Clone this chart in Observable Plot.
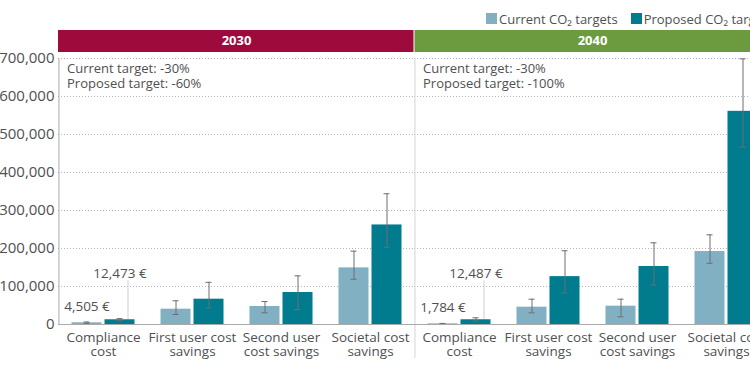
<!DOCTYPE html>
<html><head><meta charset="utf-8">
<script src="https://cdn.jsdelivr.net/npm/d3@7"></script>
<script src="https://cdn.jsdelivr.net/npm/@observablehq/plot@0.6"></script>
<style>
html,body{margin:0;padding:0;background:#fff;overflow:hidden;width:750px;height:375px;}
#wrap{position:relative;width:770px;}
#legend{position:relative;height:28px;}
#legend > *{position:absolute !important;left:486px;top:2px;white-space:nowrap;margin:0 !important;}
.lg-swatch > svg{margin-right:2px !important;}
.lg-swatches-wrap{flex-wrap:nowrap !important;}
</style></head>
<body><div id="wrap"><div id="legend"></div><div id="chart"></div></div>
<script>
// ---- data ----
const years = ["2030", "2040"];
const headerColors = ["#9e0a3b", "#6b9a3f"];
const categories = ["Compliance cost", "First user cost savings", "Second user cost savings", "Societal cost savings"];
const categoryLabels = ["Compliance\ncost", "First user cost\nsavings", "Second user\ncost savings", "Societal cost\nsavings"];
const series = ["Current CO\u2082 targets", "Proposed CO\u2082 targets"];
const seriesColors = ["#80b0c2", "#007c8e"];
const targetCurrent = ["-30%", "-30%"];
const targetProposed = ["-60%", "-100%"];
const yTicks = [0, 100000, 200000, 300000, 400000, 500000, 600000, 700000];

const current2030 = [4505, 40300, 47400, 149000];
const current2030Low = [3000, 26300, 30700, 119000];
const current2030High = [6500, 62400, 60500, 193000];
const proposed2030 = [12473, 66600, 84200, 262000];
const proposed2030Low = [10000, 43900, 39500, 203000];
const proposed2030High = [15500, 111000, 128000, 344000];

const current2040 = [1784, 45600, 48200, 192000];
const current2040Low = [1000, 30700, 20200, 161000];
const current2040High = [2800, 66600, 66600, 236000];
const proposed2040 = [12487, 126000, 152600, 561000];
const proposed2040Low = [9000, 82500, 104000, 467000];
const proposed2040High = [17600, 194000, 215000, 699000];

// ---- table ----
const rows = [];
[
  [years[0], series[0], current2030, current2030Low, current2030High],
  [years[0], series[1], proposed2030, proposed2030Low, proposed2030High],
  [years[1], series[0], current2040, current2040Low, current2040High],
  [years[1], series[1], proposed2040, proposed2040Low, proposed2040High]
].forEach(([year, s, v, lo, hi]) => categories.forEach((c, i) =>
  rows.push({year, series: s, category: c, value: v[i], lo: lo[i], hi: hi[i]})));
const cur = rows.filter(d => d.series === series[0]);
const pro = rows.filter(d => d.series === series[1]);
const compCur = cur.filter(d => d.category === categories[0]);
const compPro = pro.filter(d => d.category === categories[0]);
const notes = years.map((y, i) => ({year: y, text: `Current target: ${targetCurrent[i]}\nProposed target: ${targetProposed[i]}`}));
const fmt = d3.format(",");

const GAP = 16.5;
const halfStep = (770 - 57) / 2 / 4 / 2;
const textColor = "#4f5052";

const chart = Plot.plot({
  width: 770, height: 347,
  marginTop: 30, marginBottom: 51, marginLeft: 57, marginRight: 0,
  style: {fontFamily: "'Open Sans', sans-serif", fontSize: "14px", color: textColor, background: "#fff", overflow: "visible"},
  fx: {domain: years, padding: 0, axis: null},
  x: {domain: categories, paddingInner: 0.663, paddingOuter: 0.3315, axis: null},
  y: {domain: [0, 700000], axis: null},
  color: {domain: series, range: seriesColors},
  marks: [
    Plot.rect([years[0]], {fx: d => d, fill: headerColors[0], insetTop: -28, insetBottom: 272, insetRight: 0.5}),
    Plot.rect([years[1]], {fx: d => d, fill: headerColors[1], insetTop: -28, insetBottom: 272, insetLeft: 0.5}),
    Plot.text(years, {fx: d => d, text: d => d, frameAnchor: "top", dy: -23, fill: "white", fontWeight: "bold", fontSize: 13}),
    Plot.gridY(yTicks.slice(1), {stroke: "#b5b5b5", strokeOpacity: 1, strokeDasharray: "1,2"}),
    Plot.axisY(yTicks, {tickSize: 0, tickPadding: 4, tickFormat: fmt, fontSize: 15, fontWeight: 500, fill: textColor, label: null}),
    Plot.axisX({tickSize: 0, tickPadding: 7, tickFormat: d => categoryLabels[categories.indexOf(d)], lineHeight: 1.05, fontSize: 13.5, fontWeight: 500, fill: textColor, label: null}),
    Plot.ruleX([{year: years[0], category: categories[0]}], {fx: "year", x: "category", dx: -halfStep, stroke: "#aaa"}),
    Plot.ruleX([{year: years[1], category: categories[0]}], {fx: "year", x: "category", dx: -halfStep, stroke: "#d4d4d4", insetBottom: -34}),
    Plot.text(notes, {fx: "year", text: "text", frameAnchor: "top-left", dx: 8.5, dy: 5, lineAnchor: "top", textAnchor: "start", fontSize: 13, fontWeight: 500, lineHeight: 1.08, fill: textColor}),
    Plot.ruleX(compPro, {fx: "year", x: "category", y1: "value", y2: "value", dx: GAP + 8, insetBottom: 39, stroke: "#cfcfcf"}),
    Plot.barY(cur, {fx: "year", x: "category", y: "value", fill: "series", dx: -GAP}),
    Plot.barY(pro, {fx: "year", x: "category", y: "value", fill: "series", dx: GAP}),
    Plot.ruleX(cur, {fx: "year", x: "category", y1: "lo", y2: "hi", dx: -GAP, stroke: "#6d6e71"}),
    Plot.ruleX(pro, {fx: "year", x: "category", y1: "lo", y2: "hi", dx: GAP, stroke: "#6d6e71"}),
    Plot.tickY(cur, {fx: "year", x: "category", y: "lo", dx: -GAP, insetLeft: 12, insetRight: 12, stroke: "#6d6e71"}),
    Plot.tickY(cur, {fx: "year", x: "category", y: "hi", dx: -GAP, insetLeft: 12, insetRight: 12, stroke: "#6d6e71"}),
    Plot.tickY(pro, {fx: "year", x: "category", y: "lo", dx: GAP, insetLeft: 12, insetRight: 12, stroke: "#6d6e71"}),
    Plot.tickY(pro, {fx: "year", x: "category", y: "hi", dx: GAP, insetLeft: 12, insetRight: 12, stroke: "#6d6e71"}),
    Plot.ruleY([0], {stroke: "#aaa"}),
    Plot.text(compCur, {fx: "year", x: "category", y: "value", text: d => fmt(d.value) + " \u20ac", dx: -GAP, dy: -16, fontSize: 13.5, fontWeight: 500, fill: textColor}),
    Plot.text(compPro, {fx: "year", x: "category", y: "value", text: d => fmt(d.value) + " \u20ac", dx: GAP, dy: -46, fontSize: 13.5, fontWeight: 500, fill: textColor})
  ]
});
document.getElementById("chart").appendChild(chart);

const legend = Plot.legend({
  color: {type: "ordinal", domain: series, range: seriesColors},
  legend: "swatches", swatchSize: 11, className: "lg",
  style: {fontFamily: "'Open Sans', sans-serif", fontSize: "13px", color: textColor}
});
document.getElementById("legend").appendChild(legend);
</script></body></html>
